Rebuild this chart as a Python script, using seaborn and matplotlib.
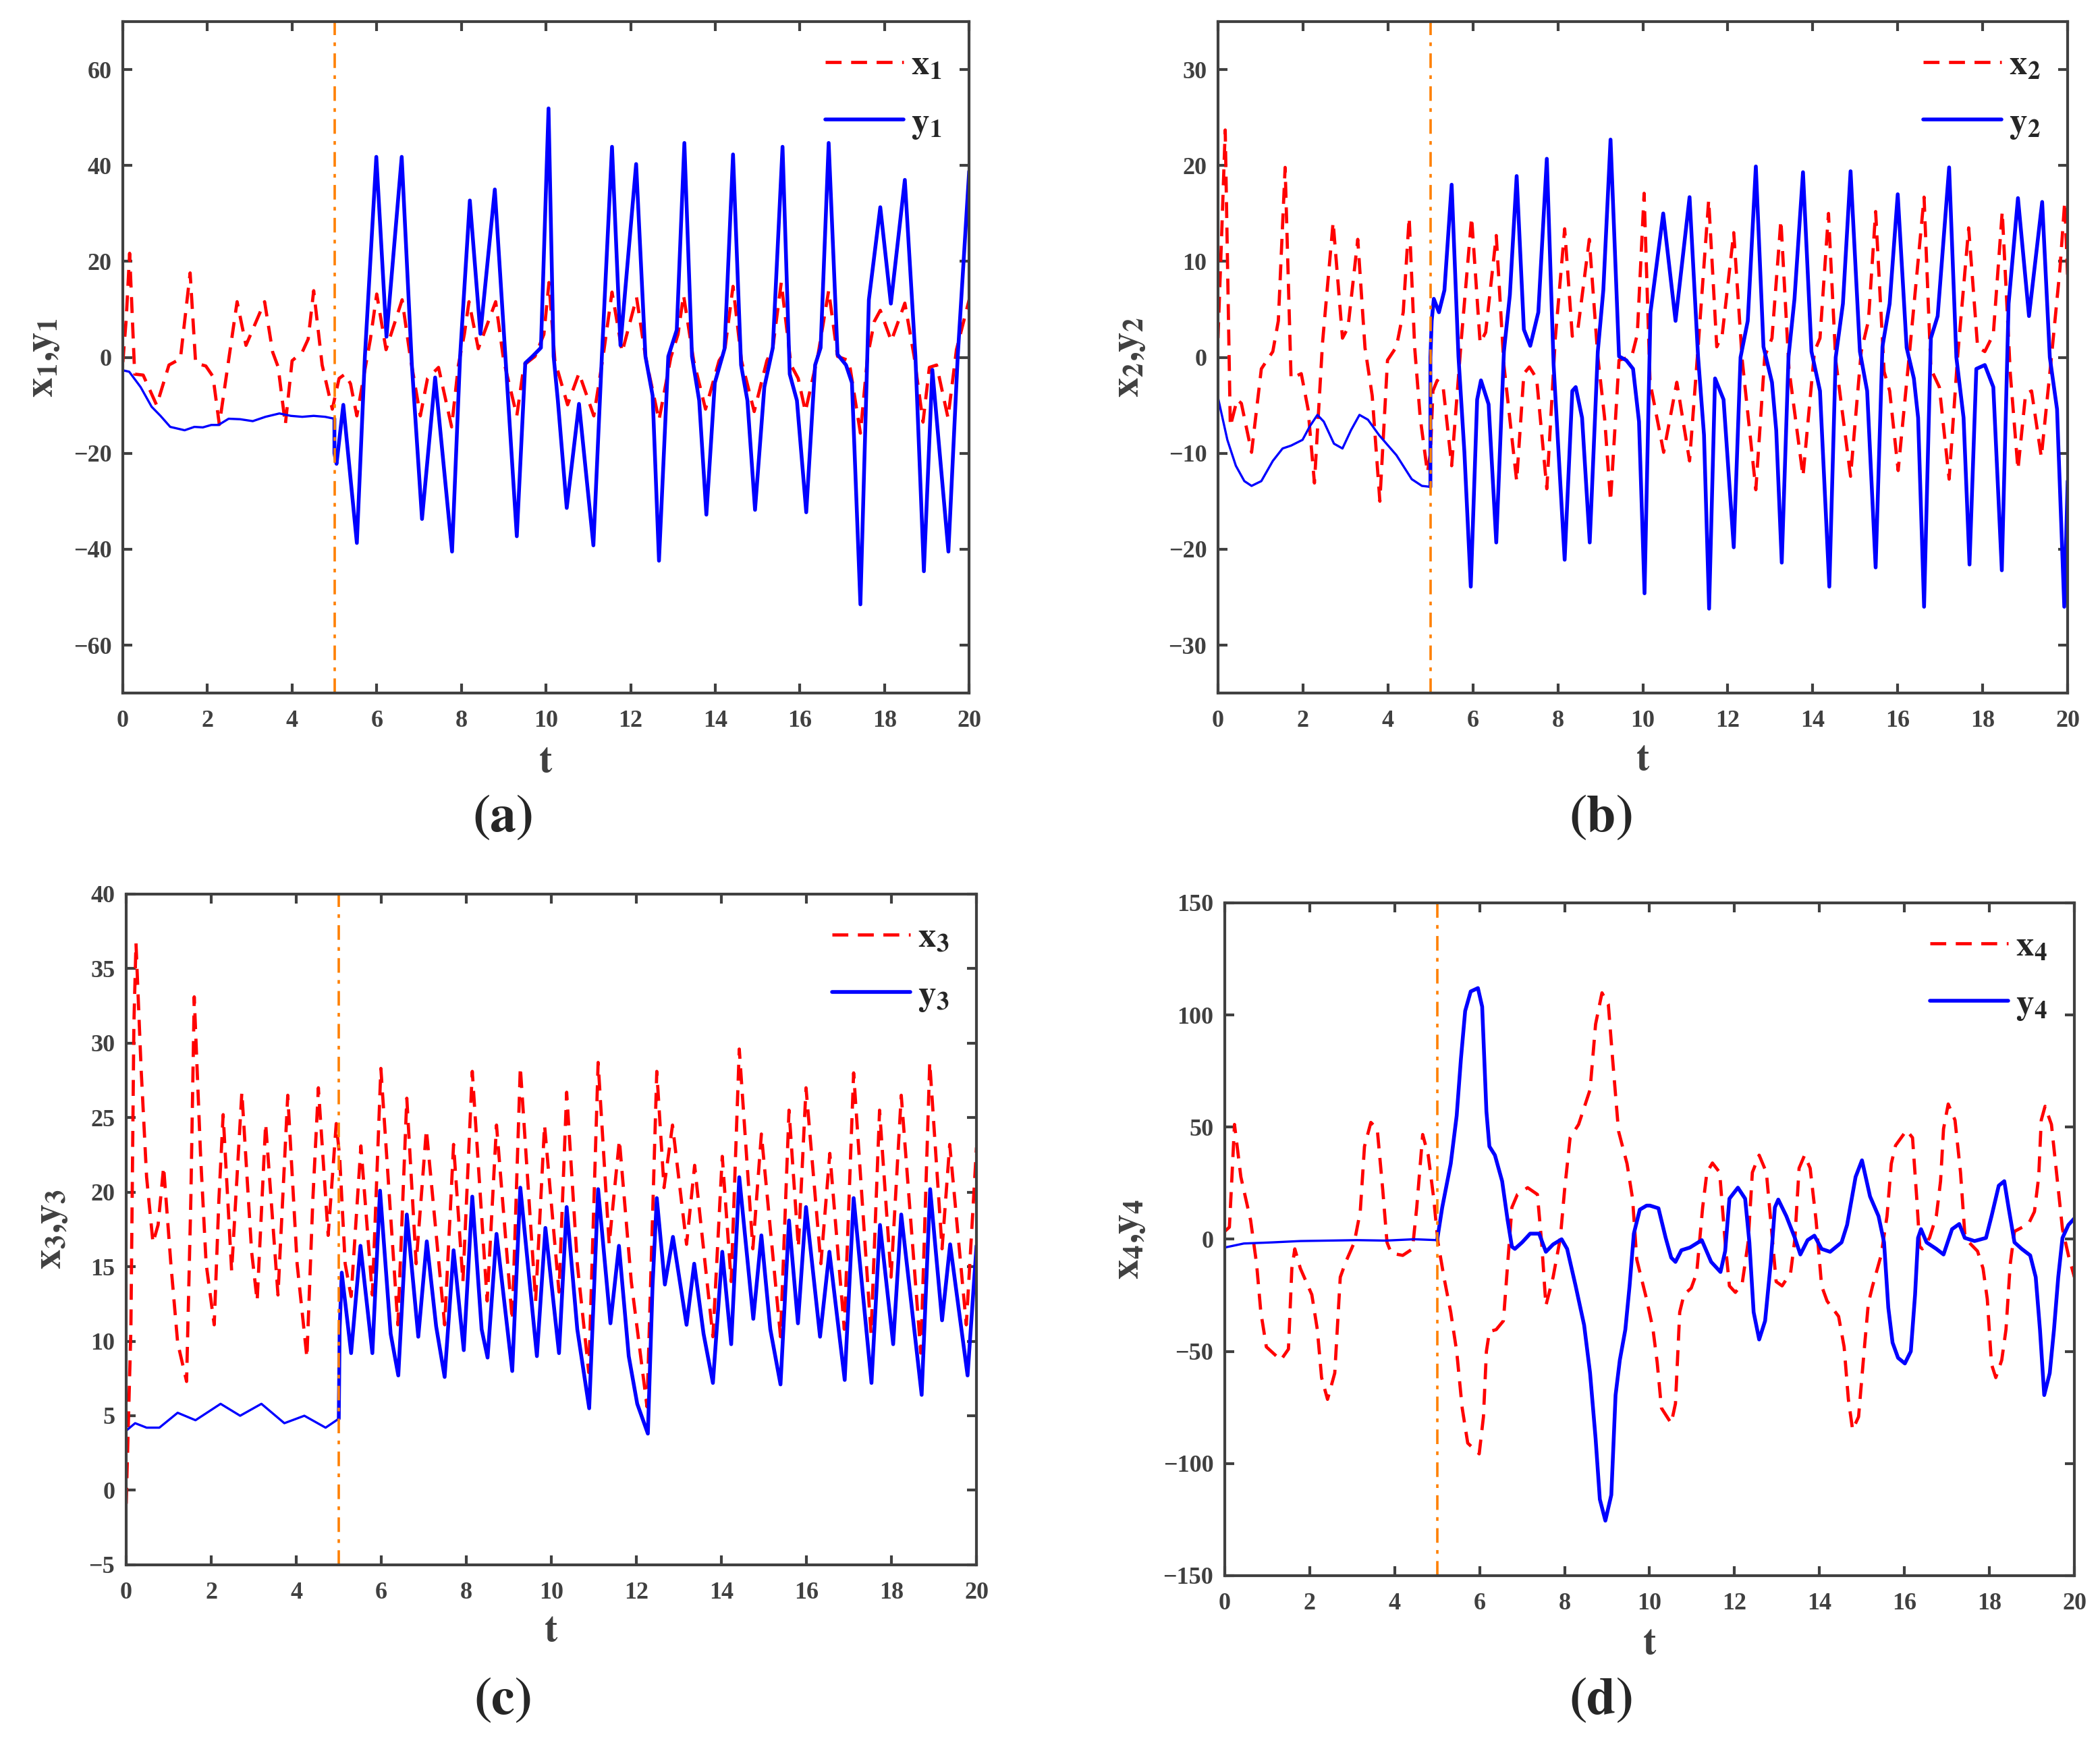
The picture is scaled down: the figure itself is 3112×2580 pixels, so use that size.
import numpy as np
import seaborn as sns
import matplotlib.pyplot as plt

# ---- data (t, value) ----
t_x1 = [0, 0.08, 0.16, 0.28, 0.48, 0.8, 1.09, 1.36, 1.59, 1.72, 1.96, 2.13, 2.28, 2.7, 2.91, 3.35, 3.54, 3.67, 3.84,
        4.0, 4.24, 4.38, 4.51, 4.71, 4.95, 5.11, 5.25, 5.38, 5.53, 5.72, 5.85, 6.0, 6.22, 6.6, 6.79, 7.03, 7.2, 7.46,
        7.77, 7.93, 8.07, 8.18, 8.4, 8.81, 9.0, 9.31, 9.48, 9.74, 9.95, 10.07, 10.21, 10.51, 10.78, 11.13, 11.35,
        11.56, 11.8, 12.14, 12.35, 12.67, 12.95, 13.12, 13.25, 13.49, 13.77, 14.09, 14.22, 14.42, 14.62, 14.92,
        15.22, 15.36, 15.56, 15.79, 15.96, 16.13, 16.43, 16.68, 16.89, 17.16, 17.43, 17.6, 17.76, 17.9, 18.16,
        18.48, 18.7, 18.91, 19.06, 19.23, 19.5, 19.7, 20]
x1 = [-1, 8, 21.7, -3.5, -3.7, -10, -1.6, -0.3, 17.6, -1.2, -1.8, -4, -14, 11.6, 2.5, 11.6, 1.1, -2, -14,
      -0.7, 1.1, 3.8, 13.9, -1.6, -10.8, -4.4, -3.5, -5.5, -12.2, -2.6, 3.8, 13.2, 1.6, 12, 0.2, -12.2, -4.4, -2.1,
      -14.5, -1.6, 4.8, 11.6, 1.8, 11.6, -0.7, -12.2, -1.6, 0.2, 4.8, 15.6, -0.7, -9.9, -3.3, -12.2, 0.2,
      13.6, 1.1, 12.5, 0.2, -13.1, 0, 4.8, 13, -0.7, -10.8, -0.7, 1.1, 14.8, -0.7, -11.3,
      -0.7, 2, 15.6, -1.6, -4.4, -11.3, 0.6, 13.9, 0.2, -0.7, -15.8, 0.2, 7.5, 9.8, 3.4,
      11.3, 0.2, -13.5, -2.1, -1.6, -12.6, 1.6, 12]
t_y1 = [0, 0.15, 0.42, 0.68, 0.89, 1.12, 1.46, 1.69, 1.89, 2.09, 2.26, 2.5, 2.77, 3.07, 3.37, 3.7, 3.97, 4.24,
        4.51, 4.78, 5.0, 5.0, 5.05, 5.21, 5.53, 5.72, 5.99, 6.23, 6.59, 6.83, 7.07, 7.38, 7.78, 7.97, 8.2, 8.45,
        8.79, 9.04, 9.31, 9.51, 9.68, 9.88, 10.06, 10.18, 10.28, 10.49, 10.78, 11.12, 11.32, 11.56, 11.76, 12.13,
        12.35, 12.52, 12.67, 12.89, 13.09, 13.27, 13.45, 13.62, 13.79, 13.99, 14.22, 14.42, 14.61, 14.76, 14.94,
        15.16, 15.36, 15.59, 15.76, 15.93, 16.15, 16.36, 16.49, 16.68, 16.89, 17.09, 17.23, 17.43, 17.63, 17.9,
        18.15, 18.48, 18.73, 18.93, 19.13, 19.51, 19.73, 20]
y1 = [-2.7, -3, -6.2, -10.3, -12.2, -14.5, -15.2, -14.5, -14.6, -14.1, -14.1, -12.8, -12.9, -13.3, -12.4, -11.7,
      -12.2, -12.4, -12.2, -12.4, -12.8, -20, -22.2, -9.9, -38.7, 0.2, 41.8, 4.3, 41.8, -1.6, -33.7, -4.2, -40.5,
      0.2, 32.7, 4.9, 35, 0.2, -37.3, -1.2, 0.2, 2, 51.9, 0.2, -9, -31.4, -9.7, -39.2, 0.2, 43.9, 2.5, 40.3,
      0.2, -8, -42.4, 0.2, 5.7, 44.7, 0.2, -9, -32.8, -5.3, 1.8, 42.3, -1.6, -9, -31.8,
      -6.2, 2, 43.9, -3.5, -9, -32.3, -1.6, 2, 44.7, 0.6, -1.6, -5.3, -51.5, 12, 31.3,
      11.2, 37, 0.2, -44.6, -2.6, -40.5, 0.2, 38.8]

t_x2 = [0, 0.08, 0.17, 0.29, 0.45, 0.55, 0.79, 1.02, 1.29, 1.42, 1.58, 1.72, 1.96, 2.12, 2.27, 2.46, 2.71, 2.93,
        3.06, 3.29, 3.46, 3.63, 3.81, 3.99, 4.2, 4.36, 4.5, 4.63, 4.76, 4.93, 5.0, 5.06, 5.16, 5.3, 5.5, 5.73, 5.97,
        6.17, 6.3, 6.55, 6.73, 7.03, 7.2, 7.33, 7.5, 7.74, 7.94, 8.16, 8.34, 8.47, 8.74, 8.94, 9.1, 9.24, 9.44,
        9.74, 9.87, 10.03, 10.17, 10.49, 10.8, 11.1, 11.3, 11.55, 11.74, 11.87, 12.14, 12.34, 12.66, 12.87, 13.04,
        13.25, 13.44, 13.77, 14.04, 14.17, 14.37, 14.54, 14.89, 15.14, 15.31, 15.48, 15.68, 15.81, 16.01, 16.28,
        16.62, 16.78, 16.98, 17.21, 17.41, 17.67, 17.88, 18.05, 18.25, 18.46, 18.65, 18.83, 19.01, 19.15, 19.38,
        19.62, 19.82, 19.93, 20]
x2 = [2, 12, 23.7, -7.2, -4.4, -4.8, -9.9, -1.2, 0.6, 3.8, 19.8, -2.2, -1.7, -5.4, -13.1, 1.5, 14.1, 2,
      3.1, 12.3, 1, -4, -15, -0.3, 1.1, 4.7, 14.6, 1, -6.3, -12, -10, -3.5, -2.4, -3.1, -11.3, 2, 14.6,
      1.5, 2.6, 12.7, -0.8, -12.9, -1.7, -1, -2.2, -13.7, 2, 13.4, 2.2, 2.9, 12.3, 0.1, -6.3, -15, -0.3,
      0.1, 2.4, 17.1, -2.6, -9.9, -2.6, -10.8, 1, 16.4, 1.1, 2.4, 13, -0.3, -13.8, 0.1, 2,
      14.3, -1.2, -12.4, 0.6, 2, 15, -0.3, -12.4, 0.6, 3.8, 15.2, -1.5, -3.5, -11.8, 0.6,
      16.7, -1.2, -3.1, -12.7, 0.1, 13.5, 1.1, 0.6, 2.4, 15.2, -1.7, -11.7, -3.8, -3.5, -10.4,
      0.1, 9.3, 16.2, 8.4]
t_y2 = [0, 0.22, 0.42, 0.62, 0.79, 1.02, 1.29, 1.52, 1.72, 1.99, 2.16, 2.34, 2.49, 2.73, 2.93, 3.13, 3.33, 3.53,
        3.79, 4.2, 4.56, 4.8, 5.0, 5.0, 5.03, 5.08, 5.2, 5.33, 5.5, 5.66, 5.8, 5.95, 6.1, 6.19, 6.37, 6.55, 6.73,
        6.87, 7.03, 7.2, 7.35, 7.54, 7.74, 7.9, 8.16, 8.34, 8.42, 8.57, 8.75, 8.94, 9.07, 9.24, 9.44, 9.61, 9.77,
        9.91, 10.04, 10.18, 10.3, 10.48, 10.77, 11.1, 11.3, 11.44, 11.56, 11.7, 11.9, 12.14, 12.3, 12.47, 12.66,
        12.84, 13.04, 13.14, 13.27, 13.43, 13.57, 13.77, 13.97, 14.17, 14.39, 14.54, 14.71, 14.89, 15.11, 15.28,
        15.48, 15.64, 15.81, 16.0, 16.21, 16.38, 16.48, 16.62, 16.78, 16.94, 17.21, 17.38, 17.55, 17.69, 17.85,
        18.05, 18.25, 18.45, 18.61, 18.83, 19.09, 19.4, 19.58, 19.75, 19.92, 20]
y2 = [-4.2, -8.6, -11.3, -12.9, -13.4, -12.9, -10.8, -9.5, -9.2, -8.6, -7.2, -6, -6.7, -9, -9.5, -7.6, -6, -6.5,
      -8.1, -10.2, -12.7, -13.4, -13.5, 0, 3.8, 6.1, 4.7, 7, 18, 0.1, -9.9, -23.9, -4.4, -2.4, -4.9, -19.3, 0.6,
      6.5, 18.9, 2.9, 1.2, 4.7, 20.7, -0.8, -21.1, -3.5, -3.1, -6.3, -19.3, 0.6, 7, 22.7, 0.1, -0.3, -1.2,
      -6.7, -24.6, 4.7, 8.8, 15, 3.8, 16.7, 0.1, -8.1, -26.2, -2.2, -4.4, -19.8, 0, 3.8, 19.9,
      1.1, -2.6, -7.6, -21.4, 0.1, 6.1, 19.3, 0.6, -3.5, -23.9, 0, 5.6, 19.4, 0.6, -3.5,
      -21.9, 1.1, 5.6, 17, 1, -2.2, -6.3, -26, 2, 4.3, 19.8, 0, -6.3, -21.6, -1.2,
      -0.8, -3.1, -22.2, 5.6, 16.6, 4.3, 16.2, 0, -5.4, -26, -12.9]

t_x3 = [0, 0.11, 0.18, 0.23, 0.35, 0.48, 0.63, 0.75, 0.88, 1.05, 1.21, 1.42, 1.52, 1.6, 1.75, 1.88, 2.07, 2.18,
        2.28, 2.48, 2.72, 2.95, 3.08, 3.28, 3.57, 3.8, 4.02, 4.25, 4.39, 4.52, 4.75, 4.94, 5.02, 5.15, 5.29, 5.52,
        5.79, 5.99, 6.39, 6.6, 6.82, 7.06, 7.49, 7.7, 7.92, 8.14, 8.49, 8.71, 9.08, 9.27, 9.63, 9.84, 10.18,
        10.36, 10.61, 10.88, 11.1, 11.36, 11.6, 11.88, 12.25, 12.48, 12.65, 12.85, 13.18, 13.37, 13.8, 14.02,
        14.23, 14.42, 14.74, 14.94, 15.39, 15.59, 15.81, 15.99, 16.34, 16.55, 16.89, 17.11, 17.52, 17.72, 17.99,
        18.23, 18.69, 18.9, 19.19, 19.37, 19.76, 20]
x3 = [-0.9, 10.8, 31.2, 36.7, 28.3, 21, 16.6, 17.8, 21.7, 15.2, 9.9, 7.3, 19.5, 33.1, 22.4, 15.2, 11.1, 19.5,
      25.2, 14.7, 26.7, 16, 12.7, 24.6, 13.1, 26.5, 15.2, 8.9, 19.5, 27, 17.1, 24.6, 22.4, 15.2, 13, 23.1,
      13.1, 28.3, 11.1, 26.3, 15.2, 24.2, 11.1, 23.2, 14, 28.1, 12.7, 24.5, 11.4, 28.4, 12.7, 24.5, 13.3,
      26.7, 15.2, 7.9, 28.7, 16.5, 23.5, 14, 5.6, 28.1, 20.3, 24.5, 16.5, 21.8, 10.3, 22.4,
      14, 29.6, 16.2, 23.9, 10.3, 25.5, 16.3, 27, 15.2, 22.6, 10.8, 28, 10.5, 25.5, 14.3,
      26.5, 9.2, 28.7, 16.2, 23.2, 11.1, 23]
t_y3 = [0, 0.21, 0.48, 0.78, 1.21, 1.63, 2.22, 2.68, 3.18, 3.72, 4.19, 4.69, 5.0, 5.02, 5.07, 5.29, 5.51, 5.79,
        5.97, 6.22, 6.4, 6.6, 6.87, 7.07, 7.29, 7.49, 7.7, 7.94, 8.14, 8.36, 8.5, 8.71, 9.08, 9.27, 9.66, 9.86,
        10.18, 10.36, 10.61, 10.89, 11.1, 11.39, 11.59, 11.82, 12.02, 12.27, 12.38, 12.48, 12.67, 12.86, 13.18,
        13.36, 13.58, 13.8, 14.02, 14.23, 14.42, 14.75, 14.94, 15.15, 15.39, 15.59, 15.8, 15.99, 16.32, 16.54,
        16.9, 17.11, 17.53, 17.73, 18.04, 18.23, 18.71, 18.91, 19.19, 19.38, 19.79, 20]
y3 = [4, 4.5, 4.2, 4.2, 5.2, 4.7, 5.8, 5, 5.8, 4.5, 5, 4.2, 4.8, 10.8, 14.6, 9.2, 16.4, 9.2,
      20.1, 10.5, 7.7, 18.5, 10.3, 16.7, 11, 7.6, 16.1, 9.4, 19.7, 10.8, 8.9, 17.2, 8, 20.3, 9, 17.6,
      9.2, 19, 10.8, 5.5, 20.2, 11.2, 16.4, 9, 5.8, 3.8, 13.7, 19.6, 13.8, 17, 11.1,
      15.2, 10.5, 7.2, 16, 9.8, 21, 11.5, 17.1, 10.8, 7.1, 18.1, 11.2, 19, 10.3, 16,
      7.4, 19.6, 7.2, 17.8, 9.8, 18.5, 6.4, 20.2, 11.4, 16.5, 7.7, 16.4]

t_x4 = [0, 0.11, 0.17, 0.23, 0.38, 0.61, 0.75, 0.85, 0.98, 1.32, 1.5, 1.58, 1.65, 1.78, 2.05, 2.18, 2.28, 2.42,
        2.59, 2.72, 2.85, 3.05, 3.19, 3.29, 3.44, 3.59, 3.72, 3.82, 3.92, 4.19, 4.42, 4.52, 4.66, 4.79, 4.92, 5.02,
        5.16, 5.32, 5.46, 5.59, 5.72, 5.99, 6.09, 6.16, 6.23, 6.39, 6.56, 6.66, 6.76, 6.89, 7.13, 7.36, 7.46, 7.56,
        7.73, 7.9, 8.0, 8.13, 8.33, 8.6, 8.73, 8.88, 9.03, 9.13, 9.27, 9.47, 9.6, 9.7, 9.93, 10.08, 10.18, 10.28,
        10.51, 10.61, 10.71, 10.81, 10.98, 11.11, 11.25, 11.35, 11.48, 11.65, 11.78, 11.88, 12.02, 12.18, 12.32,
        12.42, 12.58, 12.75, 12.88, 12.98, 13.12, 13.32, 13.42, 13.52, 13.65, 13.78, 13.92, 14.05, 14.18, 14.45,
        14.58, 14.68, 14.78, 14.92, 15.05, 15.15, 15.25, 15.45, 15.59, 15.69, 15.79, 16.05, 16.19, 16.29, 16.36,
        16.42, 16.59, 16.75, 16.85, 16.92, 17.03, 17.19, 17.32, 17.42, 17.52, 17.72, 17.85, 17.95, 18.05, 18.15,
        18.29, 18.39, 18.49, 18.59, 18.92, 19.06, 19.16, 19.22, 19.31, 19.46, 19.59, 19.72, 19.86, 20]
x4 = [3.5, 5.4, 27.8, 51.2, 27.8, 8.4, -11, -32.5, -48, -53.9, -49, -13, -4.3, -13, -24.7, -40.3, -61.7, -71.4,
      -59.7, -16.9, -10.1, -1.4, 12.3, 41.4, 52.1, 49.2, 22, -1.4, -6.2, -7.2, -4.3, 14.2, 46.7, 37.5, 18.1, -1.4,
      -16.9, -32.5, -50, -75.3, -90.9, -95.7, -79.2, -50, -41.2, -40.3, -36.4, -11.1, 14.2, 20, 23, 20, -1.4, -29.6,
      -16.9, 0.6, 22, 45.3, 51.2, 66.7, 95.9, 109.9, 104.7, 80.4, 48.2, 33.7, 18.1, -9.1, -26.7, -40, -55, -75.3,
      -82.1, -73.3, -32.5, -24.7, -21.8, -15, 14.2, 29.8, 34, 29.8, -1.4, -20.8, -23.7, -19.8, -1.4,
      29.8, 37.5, 29.8, 2.5, -18.9, -20.8, -15, 0, 31.7, 37.5, 31.7, 8.4, -20.8, -27.6, -34.4,
      -48, -71.4, -85, -79.2, -50, -28.6, -20.8, -7.2, 10.3, 33.7, 41.8, 48.6, 45.3, 18.1, -3.3,
      -4.3, 0.6, 10.3, 25.9, 49.2, 60.3, 53.1, 29.8, 2.5, -1.4, -5.3, -13, -26.7, -55.8, -61.7,
      -53.9, -40.3, -11.1, 3.5, 6.8, 12.3, 27.8, 53.1, 59.3, 51.2, 27.8, 4.5, -7.2, -16.9]
t_y4 = [0, 0.45, 1.12, 1.78, 2.45, 3.12, 3.79, 4.46, 5.0, 5.12, 5.32, 5.46, 5.56, 5.66, 5.79, 5.96, 6.06, 6.16,
        6.23, 6.36, 6.53, 6.66, 6.76, 6.83, 7.0, 7.19, 7.4, 7.56, 7.73, 7.93, 8.06, 8.26, 8.46, 8.6, 8.73, 8.83,
        8.96, 9.1, 9.2, 9.3, 9.43, 9.53, 9.63, 9.77, 9.93, 10.01, 10.21, 10.38, 10.51, 10.61, 10.75, 10.95, 11.23,
        11.45, 11.67, 11.78, 11.88, 12.08, 12.25, 12.35, 12.45, 12.58, 12.72, 12.85, 12.95, 13.03, 13.22, 13.42,
        13.55, 13.72, 13.88, 14.05, 14.25, 14.52, 14.65, 14.85, 15.0, 15.19, 15.39, 15.52, 15.62, 15.72, 15.85,
        16.01, 16.15, 16.25, 16.32, 16.39, 16.52, 16.75, 16.92, 17.12, 17.29, 17.42, 17.65, 17.92, 18.05, 18.22,
        18.35, 18.45, 18.59, 18.76, 18.96, 19.09, 19.19, 19.29, 19.42, 19.52, 19.62, 19.72, 19.86, 20]
y4 = [-3.7, -1.9, -1.4, -0.8, -0.6, -0.4, -0.6, 0, -0.4, 14.2, 33.7, 55.1, 80.4, 101.8, 110.5, 112, 103.7, 57,
      41.4, 37.5, 25.9, 8.4, -3.3, -4.3, -1.4, 2.5, 2.5, -5.6, -2.3, 0, -4.3, -20.8, -38.3, -59.7, -88.9, -116,
      -125.5, -114, -69.5, -53.9, -40.3, -20.8, 2.5, 13.2, 15, 15, 13.8, 0.6, -8.2, -10.1, -4.9, -3.7, -0.4,
      -10.1, -14.6, -5.3, 18.1, 23, 18.1, -1.4, -32.5, -44.7, -36.4, -11.1, 14.2, 17.7, 10.3, 0.6,
      -6.8, -0.4, 1.6, -4.3, -5.6, -1.4, 6.4, 27.8, 35.2, 19.1, 10.3, -1.4, -30.5, -46.1, -52.9,
      -55.4, -50, -24.7, 0.6, 4.5, -1.4, -4.3, -6.8, 4.5, 6.8, 0.6, -0.8, 0.6, 10.3, 23.9,
      25.9, 14.2, -1.4, -4.3, -7.2, -16.9, -40.3, -69.5, -59.7, -40.3, -16.9, 0.6, 6.4, 9.3]

yticks_a = [-60, -40, -20, 0, 20, 40, 60]
yticks_b = [-30, -20, -10, 0, 10, 20, 30]
yticks_c = [-5, 0, 5, 10, 15, 20, 25, 30, 35, 40]
yticks_d = [-150, -100, -50, 0, 50, 100, 150]
xticks = [0, 2, 4, 6, 8, 10, 12, 14, 16, 18, 20]

switch_time = 5
panel_names = ['a', 'b', 'c', 'd']

# ---- styling ----
sns.set_style('ticks')
plt.rcParams['font.family'] = ['Liberation Serif', 'DejaVu Serif']
plt.rcParams['font.weight'] = 'bold'
plt.rcParams['mathtext.fontset'] = 'stix'
frame_color = '#404040'

fig = plt.figure(figsize=(31.12, 25.8), dpi=100)

rects = [
    [0.0585, 0.6019, 0.4030, 0.3857],
    [0.5800, 0.6019, 0.4046, 0.3857],
    [0.0601, 0.1012, 0.4049, 0.3853],
    [0.5832, 0.0950, 0.4046, 0.3864],
]
ylims = [(-70, 70), (-35, 35), (-5, 40), (-150, 150)]
yticks_all = [yticks_a, yticks_b, yticks_c, yticks_d]
ylabel_x = [-0.073, -0.083, -0.067, -0.091]
xlabel_y = [-0.1035, -0.1005, -0.0996, -0.102]
caption_xy = [(0.2394, 0.5298), (0.7622, 0.5298), (0.2391, 0.0229), (0.7622, 0.0229)]

series = [
    (t_x1, x1, t_y1, y1),
    (t_x2, x2, t_y2, y2),
    (t_x3, x3, t_y3, y3),
    (t_x4, x4, t_y4, y4),
]

for i, (tx, xv, ty, yv) in enumerate(series):
    ax = fig.add_axes(rects[i])
    n = i + 1
    ty = np.array(ty)
    yv = np.array(yv)
    k = int(np.argmax(ty >= switch_time))  # first sample at the switching time

    # x_i, red dashed
    sns.lineplot(x=tx, y=xv, ax=ax, color='#FF0000', lw=3.4, estimator=None, sort=False,
                 linestyle=(0, (5, 3)), dash_joinstyle='round', dash_capstyle='butt',
                 label=rf'$\mathbf{{x_{n}}}$')
    # y_i, blue solid: thinner before the switching time
    sns.lineplot(x=ty[:k + 1], y=yv[:k + 1], ax=ax, color='#0000FF', lw=2.4, estimator=None, sort=False,
                 solid_joinstyle='round')
    sns.lineplot(x=ty[k:], y=yv[k:], ax=ax, color='#0000FF', lw=4.0, estimator=None, sort=False,
                 solid_joinstyle='round', label=rf'$\mathbf{{y_{n}}}$')
    ax.axvline(switch_time, color='#FF8000', lw=2.6, linestyle=(0, (6, 3, 1.5, 3)))

    ax.set_xlim(0, 20)
    ax.set_ylim(*ylims[i])
    ax.set_xticks(xticks)
    ax.set_yticks(yticks_all[i])

    for sp in ax.spines.values():
        sp.set_color(frame_color)
        sp.set_linewidth(3.0)
    ax.tick_params(direction='in', length=10, width=3.0, color=frame_color, top=True, right=True,
                   labelsize=26, labelcolor=frame_color)
    ax.tick_params(axis='x', pad=18)
    ax.tick_params(axis='y', pad=12)
    for lab in ax.get_xticklabels() + ax.get_yticklabels():
        lab.set_fontweight('bold')

    ax.set_xlabel(r'$\mathbf{t}$', fontsize=42, color=frame_color)
    ax.xaxis.label.set_va('center')
    ax.xaxis.set_label_coords(0.5, xlabel_y[i])
    ax.set_ylabel(rf'$\mathbf{{x_{n}{{,}}y_{n}}}$', fontsize=42, color=frame_color)
    ax.yaxis.set_label_coords(ylabel_x[i], 0.5)

    ax.legend(loc='upper left', bbox_to_anchor=(0.83, 0.958), frameon=False, fontsize=38,
              handlelength=2.2, handletextpad=0.2, labelspacing=0.7, borderpad=0, borderaxespad=0)

    fig.text(caption_xy[i][0], caption_xy[i][1], rf'$(\mathbf{{{panel_names[i]}}})$',
             ha='center', va='center', fontsize=56)

fig.savefig('out.png', dpi=100)
